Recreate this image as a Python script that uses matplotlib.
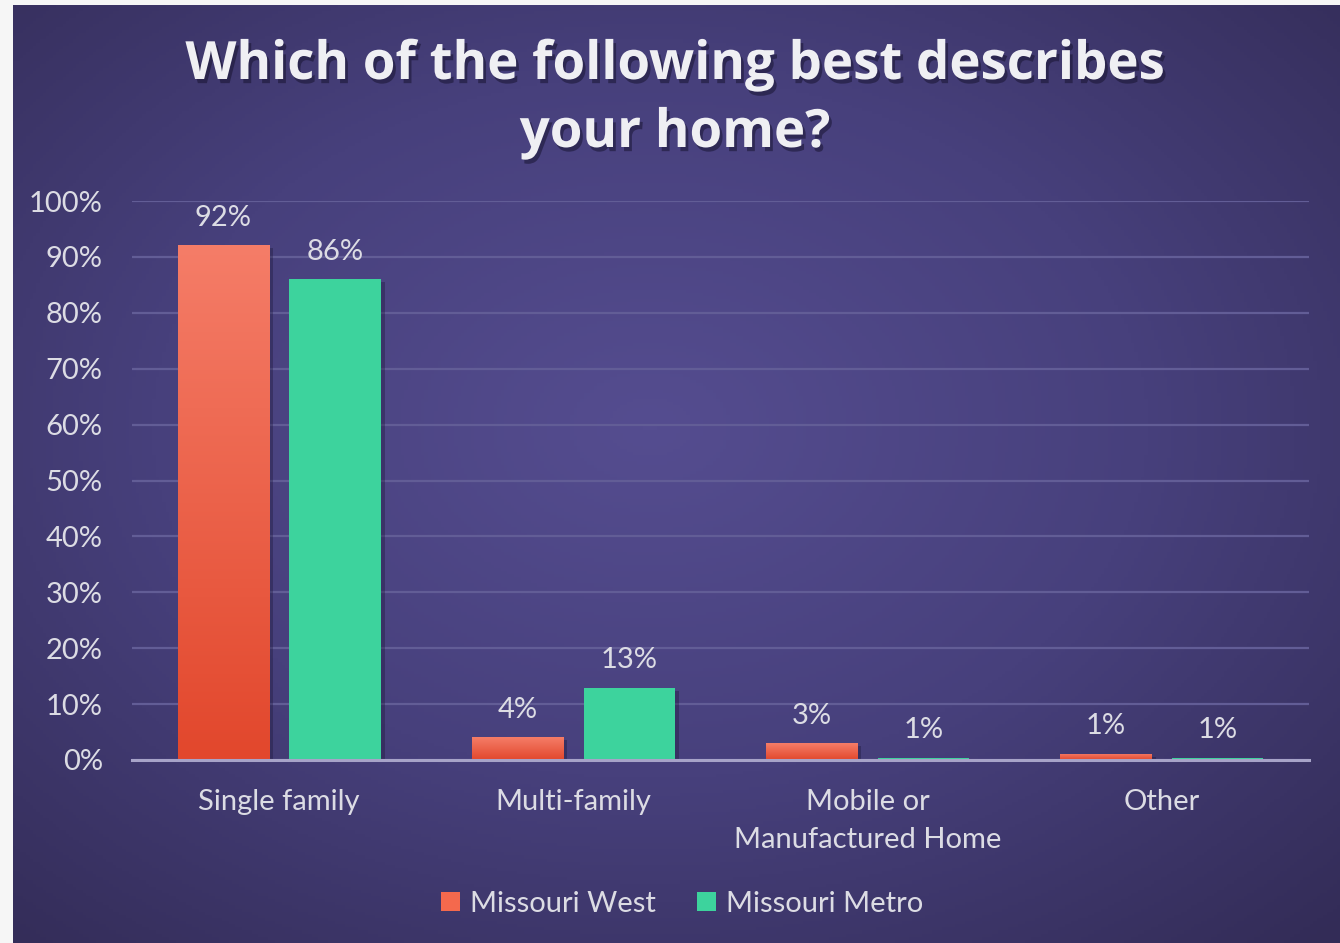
import numpy as np
import matplotlib
matplotlib.use("Agg")
import matplotlib.pyplot as plt
import matplotlib.patheffects as pe
from matplotlib.colors import LinearSegmentedColormap
from matplotlib.patches import Patch

# data
categories = ["Single family", "Multi-family", "Mobile or\nManufactured Home", "Other"]
west = [92.1, 4.1, 3.0, 1.1]
metro = [86.0, 12.9, 0.4, 0.4]
west_labels = ["92%", "4%", "3%", "1%"]
metro_labels = ["86%", "13%", "1%", "1%"]
yticks = [0, 10, 20, 30, 40, 50, 60, 70, 80, 90, 100]

plt.rcParams['font.family'] = ['Lato', 'DejaVu Sans']
txt = "#dcdce4"
fs = 21

fig = plt.figure(figsize=(13.4, 9.43), dpi=100, facecolor="#f6f6f6")

# radial purple background
bg = fig.add_axes([13 / 1340, 0, 1 - 13 / 1340, 1 - 5 / 943])
bg.set_axis_off()
yy, xx = np.mgrid[0:1:300j, 0:1:400j]
r = np.sqrt(((xx - 0.48) / 0.75) ** 2 + ((yy - 0.45) / 0.75) ** 2)
r = np.clip(r, 0, 1)
bg_cmap = LinearSegmentedColormap.from_list("bg", ["#554d90", "#47407c", "#332c57"])
bg.imshow(r, cmap=bg_cmap, aspect="auto", extent=[0, 1, 0, 1], origin="upper")
bg.set_xlim(0, 1)
bg.set_ylim(0, 1)

ax = fig.add_axes([132 / 1340, 1 - 760 / 943, 1177 / 1340, 559 / 943])
ax.set_facecolor("none")

x = np.arange(len(categories))
w = 0.31
off = 0.19
red_cmap = LinearSegmentedColormap.from_list("red", ["#e2472c", "#f57d68"])
shadow = [pe.SimplePatchShadow(offset=(3, -2), shadow_rgbFace="#1a1535", alpha=0.35), pe.Normal()]

bars_w = ax.bar(x - off, west, w, color="#ef5f42", zorder=3)
bars_m = ax.bar(x + off, metro, w, color="#3dd39d", zorder=3)
for b in list(bars_w) + list(bars_m):
    b.set_path_effects(shadow)

# gradient fill on the red bars
grad = np.linspace(0, 1, 256).reshape(-1, 1)
for b in bars_w:
    x0, y0 = b.get_x(), b.get_y()
    im = ax.imshow(grad, cmap=red_cmap, aspect="auto", origin="lower",
                   extent=[x0, x0 + b.get_width(), y0, y0 + b.get_height()], zorder=4)
    im.set_clip_path(b)

for i in range(len(categories)):
    ax.text(x[i] - off, west[i] + 2.6, west_labels[i], ha="center", va="bottom",
            fontsize=fs, color=txt, zorder=5)
    ax.text(x[i] + off, metro[i] + 2.6, metro_labels[i], ha="center", va="bottom",
            fontsize=fs, color=txt, zorder=5)

ax.set_xlim(-0.5, len(categories) - 0.5)
ax.set_ylim(0, 100)
ax.set_yticks(yticks)
ax.set_yticklabels([f"{t}%" for t in yticks])
ax.set_xticks(x)
ax.set_xticklabels(categories, linespacing=1.55)
ax.tick_params(axis="both", length=0, labelsize=fs, labelcolor=txt)
ax.tick_params(axis="y", pad=21)
ax.tick_params(axis="x", pad=21)
ax.yaxis.grid(True, color="#625d96", linewidth=1.6, zorder=0)
ax.set_axisbelow(True)
for s in ["top", "right", "left"]:
    ax.spines[s].set_visible(False)
ax.spines["bottom"].set_color("#a7a3c8")
ax.spines["bottom"].set_linewidth(2.2)
ax.spines["bottom"].set_zorder(6)

title_fx = [pe.withSimplePatchShadow(offset=(2, -3), shadow_rgbFace="#15112c", alpha=0.5)]
for line, ypx in [("Which of the following best describes", 65), ("your home?", 133)]:
    fig.text(675 / 1340, 1 - ypx / 943, line, ha="center", va="center", family="Open Sans",
             fontsize=38, fontweight="bold", color="#efeff3", path_effects=title_fx)

handles = [Patch(facecolor="#f4694d", label="Missouri West"),
           Patch(facecolor="#3dd39d", label="Missouri Metro")]
leg = fig.legend(handles=handles, loc="center", bbox_to_anchor=(682 / 1340, 1 - 904 / 943), ncol=2,
                 frameon=False, fontsize=fs, handlelength=0.65, handleheight=0.65,
                 handletextpad=0.35, columnspacing=1.4)
for t in leg.get_texts():
    t.set_color(txt)

fig.savefig("out.png", dpi=100, facecolor=fig.get_facecolor())
